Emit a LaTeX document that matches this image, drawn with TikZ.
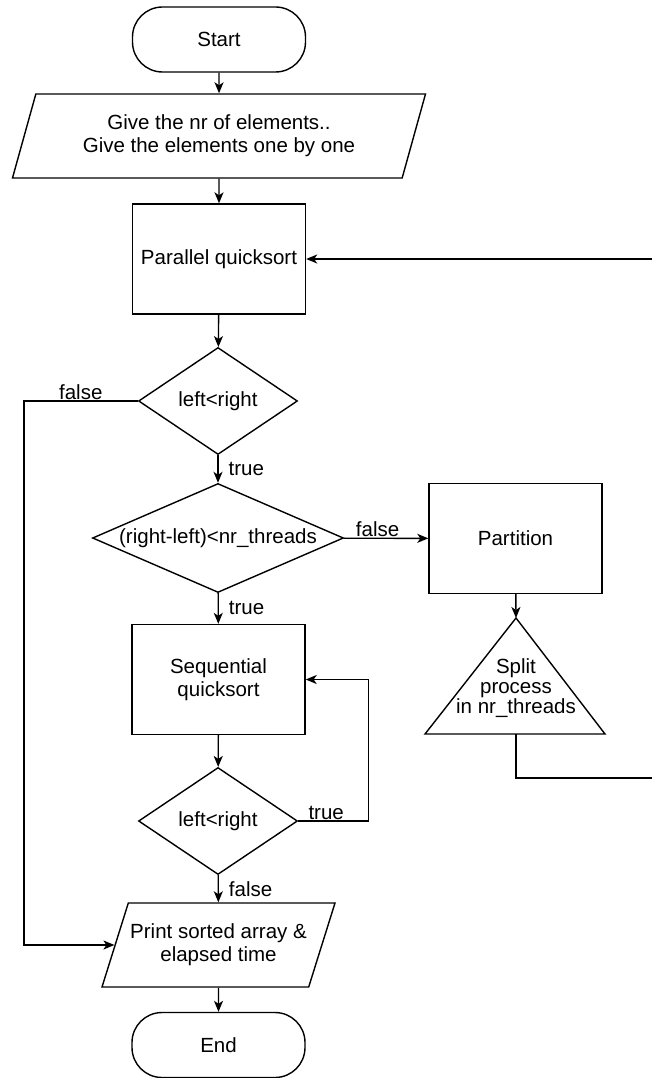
\documentclass[tikz,border=0pt]{standalone}
\usepackage{fontspec}
\setmainfont{Liberation Sans}
\usetikzlibrary{positioning, arrows.meta, shapes.geometric}

\begin{document}
\begin{tikzpicture}[
    x=1pt, y=-1pt,
    line/.style={draw, line width=1.4pt},
    arr/.style={line, -{Stealth[length=11pt, width=9pt, inset=3pt]}},
    term/.style={draw, line width=1.4pt, rounded corners=30pt, minimum width=173pt, minimum height=65pt},
    io/.style={draw, line width=1.4pt, trapezium, trapezium stretches body,
      minimum height=84pt, align=center, inner sep=0pt},
    proc/.style={draw, line width=1.4pt, minimum width=173pt, minimum height=110pt, align=center, inner sep=0pt},
    dec/.style={draw, line width=1.4pt, diamond, inner sep=0pt},
    lbl/.style={inner sep=1pt},
    font=\fontsize{20.5}{23}\selectfont
  ]
    \useasboundingbox (0,0) rectangle (651,1078);
    % start / input
    \node[term] (start) at (219,39.5) {Start};
    \node[io, trapezium left angle=61, trapezium right angle=119, minimum width=413pt] (input) at (219,136)
      {Give the nr of elements..\\Give the elements one by one};
    % main sort
    \node[proc] (pqs) at (219,259) {Parallel quicksort};
    \node[dec, minimum width=159pt, minimum height=107pt, aspect=1.49] (cond1) at (218,401) {left<right};
    \node[dec, minimum width=251pt, minimum height=109pt, aspect=2.3] (cond2) at (218,538) {(right-left)<nr\_threads};
    % parallel branch
    \node[proc] (part) at (515.5,538.5) {Partition};
    \coordinate (splittop) at (516,618);
    \coordinate (splitbase) at (516,734);
    \draw[line, line join=miter] (splittop) -- (605,734) -- (425,734) -- cycle;
    \node[align=center, font=\fontsize{20.5}{20}\selectfont] (split) at (516,688) {Split\\process\\in nr\_threads};
    \coordinate (rt) at (660,778);
    % sequential branch
    \node[proc] (seq) at (218.5,679.5) {Sequential\\quicksort};
    \node[dec, minimum width=159pt, minimum height=107pt, aspect=1.49] (cond3) at (218,821) {left<right};
    % output / end
    \node[io, trapezium left angle=58, trapezium right angle=122, minimum width=233pt] (print) at (218.5,945)
      {Print sorted array \&\\elapsed time};
    \node[term] (end) at (218.5,1045) {End};

    % connectors
    \draw[arr] (start) -- (input);
    \draw[arr] (input) -- (pqs);
    \draw[arr] (pqs) -- (cond1);
    \draw[arr] (cond1) -- node[lbl, right=9pt] {true} (cond2);
    \draw[arr] (cond1.west) -- node[lbl, above] {false} ++(-114,0) |- (print);
    \draw[arr] (cond2) -- node[lbl, above, pos=0.4] {false} (part);
    \draw[arr] (cond2) -- node[lbl, right=9pt] {true} (seq);
    \draw[arr] (part) -- (splittop);
    \draw[arr] (splitbase) |- (rt) |- (pqs);
    \draw[arr] (seq) -- (cond3);
    \draw[arr] (cond3.east) -- node[lbl, above, pos=0.4] {true} ++(70,0) |- (seq);
    \draw[arr] (cond3) -- node[lbl, right=9pt] {false} (print);
    \draw[arr] (print) -- (end);
  \end{tikzpicture}
\end{document}
